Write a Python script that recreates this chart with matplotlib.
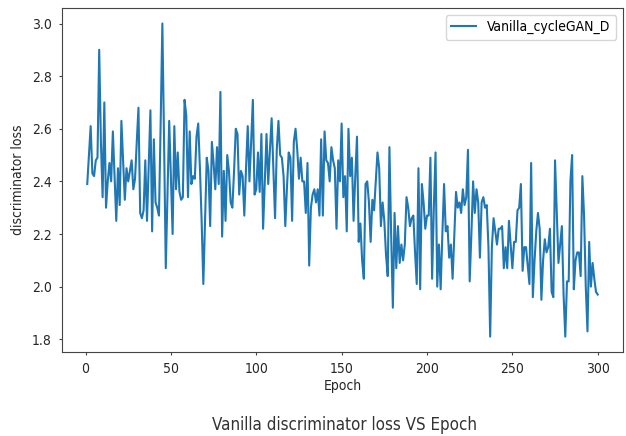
import numpy as np
import matplotlib
matplotlib.use("Agg")
import matplotlib.pyplot as plt

loss_d = [
    2.39, 2.50, 2.61, 2.43, 2.42, 2.48, 2.49, 2.90, 2.55, 2.34,
    2.70, 2.30, 2.40, 2.47, 2.40, 2.59, 2.42, 2.25, 2.45, 2.31,
    2.63, 2.48, 2.33, 2.45, 2.40, 2.44, 2.48, 2.37, 2.41, 2.55,
    2.68, 2.28, 2.26, 2.29, 2.48, 2.25, 2.46, 2.67, 2.21, 2.56,
    2.32, 2.30, 2.27, 2.62, 3.00, 2.55, 2.07, 2.35, 2.63, 2.42,
    2.20, 2.61, 2.37, 2.51, 2.36, 2.33, 2.34, 2.71, 2.65, 2.34,
    2.59, 2.39, 2.42, 2.41, 2.57, 2.62, 2.45, 2.25, 2.01, 2.25,
    2.49, 2.44, 2.23, 2.55, 2.47, 2.37, 2.53, 2.39, 2.74, 2.19,
    2.44, 2.25, 2.50, 2.44, 2.32, 2.30, 2.44, 2.60, 2.58, 2.35,
    2.44, 2.42, 2.27, 2.45, 2.61, 2.40, 2.55, 2.71, 2.35, 2.37,
    2.51, 2.36, 2.58, 2.22, 2.40, 2.58, 2.39, 2.52, 2.64, 2.45,
    2.26, 2.52, 2.63, 2.50, 2.49, 2.42, 2.23, 2.38, 2.51, 2.49,
    2.25, 2.55, 2.60, 2.52, 2.41, 2.49, 2.40, 2.40, 2.28, 2.47,
    2.08, 2.30, 2.35, 2.37, 2.32, 2.37, 2.27, 2.56, 2.27, 2.59,
    2.48, 2.47, 2.40, 2.53, 2.48, 2.45, 2.22, 2.48, 2.40, 2.62,
    2.34, 2.42, 2.21, 2.60, 2.42, 2.49, 2.25, 2.42, 2.57, 2.17,
    2.24, 2.10, 2.03, 2.39, 2.40, 2.32, 2.17, 2.33, 2.29, 2.40,
    2.51, 2.45, 2.23, 2.32, 2.25, 2.12, 2.04, 2.53, 2.20, 1.92,
    2.28, 2.07, 2.23, 2.09, 2.16, 2.10, 2.16, 2.34, 2.30, 2.23,
    2.26, 2.27, 2.13, 2.01, 2.45, 1.99, 2.39, 2.32, 2.22, 2.27,
    2.27, 2.49, 2.03, 2.30, 2.51, 2.00, 2.16, 1.99, 2.20, 2.39,
    2.21, 2.23, 2.11, 2.16, 2.03, 2.20, 2.36, 2.30, 2.32, 2.28,
    2.37, 2.31, 2.34, 2.52, 2.02, 2.20, 2.40, 2.28, 2.37, 2.32,
    2.11, 2.32, 2.34, 2.30, 2.31, 2.15, 1.81, 2.15, 2.26, 2.21,
    2.16, 2.22, 2.22, 2.23, 2.07, 2.15, 2.07, 2.25, 2.16, 2.07,
    2.17, 2.17, 2.29, 2.30, 2.39, 2.06, 2.15, 2.15, 2.08, 2.01,
    2.47, 1.96, 2.10, 2.21, 2.28, 2.22, 1.95, 2.10, 2.18, 2.13,
    2.15, 2.22, 1.98, 1.96, 2.48, 2.28, 2.09, 2.16, 2.23, 1.97,
    1.81, 2.02, 2.02, 2.40, 2.50, 1.99, 2.10, 2.13, 2.13, 2.04,
    2.42, 2.27, 2.00, 1.83, 2.17, 2.00, 2.09, 2.03, 1.98, 1.97,
]
epochs = np.arange(1, len(loss_d) + 1)
x_ticks = [0, 50, 100, 150, 200, 250, 300]
y_ticks = [1.8, 2.0, 2.2, 2.4, 2.6, 2.8, 3.0]

plt.rcParams['font.family'] = ['DejaVu Sans']
plt.rcParams['font.stretch'] = 'condensed'

fig = plt.figure(figsize=(6.26, 4.36), dpi=100)
ax = fig.add_axes([0.0986, 0.192, 0.897, 0.790])
ax.plot(epochs, loss_d, color="#1f77b4", linewidth=1.5, label="Vanilla_cycleGAN_D")
ax.set_xlabel("Epoch", labelpad=2.5, color="#262626")
ax.set_ylabel("discriminator loss", labelpad=5, color="#262626")
ax.set_xticks(x_ticks)
ax.set_yticks(y_ticks)
ax.tick_params(length=2.5, pad=4.5, labelcolor="#262626", color="#444444")
for s in ax.spines.values():
    s.set_color("#444444")
ax.legend(loc="upper right", handlelength=1.8)
fig.text(0.55, 0.025, "Vanilla discriminator loss VS Epoch", ha="center", va="center",
         fontsize=12.2, color="#333333")
fig.savefig("out.png", dpi=100)
